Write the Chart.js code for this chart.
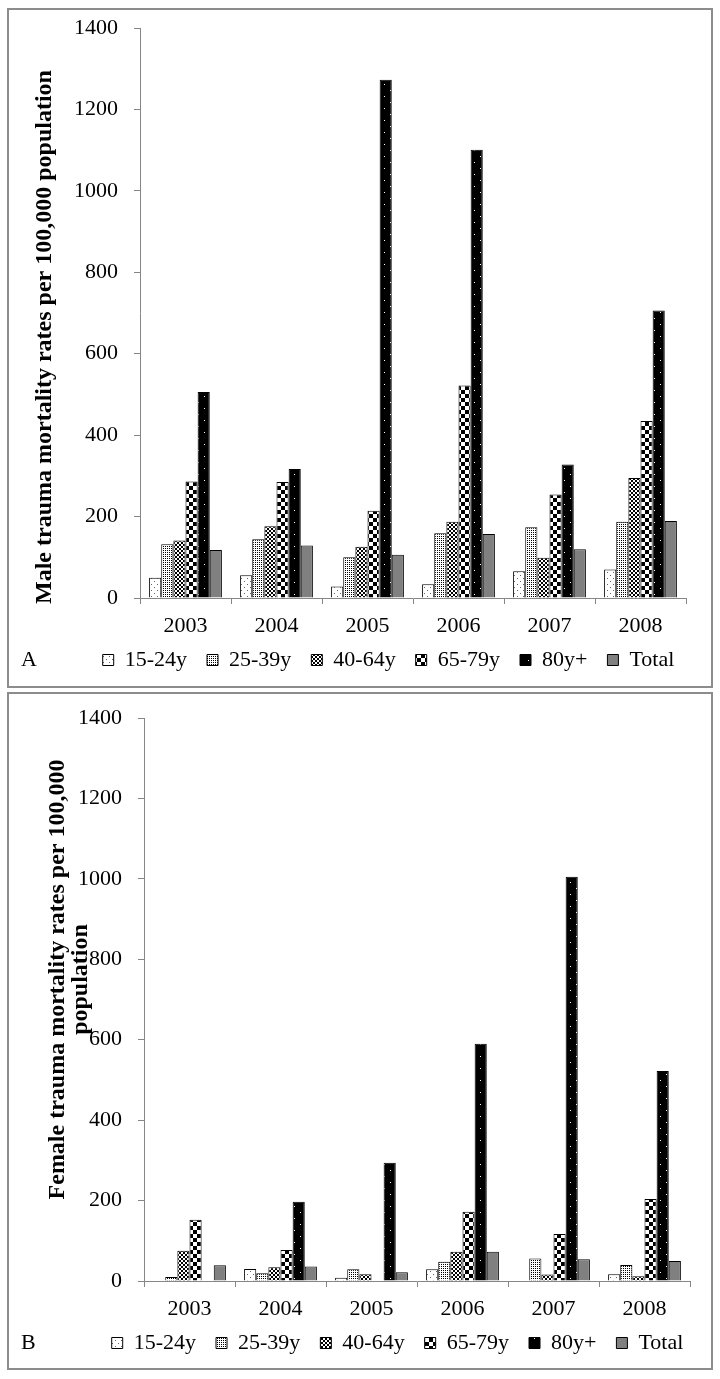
<!DOCTYPE html>
<html>
<head>
<meta charset="utf-8">
<script src="https://cdn.jsdelivr.net/npm/chart.js@4.4.1/dist/chart.umd.min.js"></script>
<style>
  body { margin: 0; background: #fff; }
  .panel { position: absolute; left: 7px; width: 702px; border: 2px solid #8c8c8c; }
  #panelA { top: 8px; height: 676px; }
  #panelB { top: 692px; height: 674px; }
  canvas { display: block; }
</style>
</head>
<body>
<div class="panel" id="panelA"><canvas id="chartA"></canvas></div>
<div class="panel" id="panelB"><canvas id="chartB"></canvas></div>
<script>
const years = ['2003', '2004', '2005', '2006', '2007', '2008'];
const ageGroups = ['15-24y', '25-39y', '40-64y', '65-79y', '80y+', 'Total'];
const yTicks = [0, 200, 400, 600, 800, 1000, 1200, 1400];

// A - male rates per 100,000
const male15_24 = [50, 56, 28, 34, 66, 70];
const male25_39 = [132, 144, 100, 159, 174, 187];
const male40_64 = [141, 176, 126, 187, 99, 295];
const male65_79 = [286, 285, 214, 522, 254, 435];
const male80plus = [506, 317, 1273, 1101, 328, 706];
const maleTotal = [118, 129, 106, 157, 120, 189];

// B - female rates per 100,000 (null = no bar)
const female15_24 = [null, 30, 8, 29, null, 17];
const female25_39 = [10, 19, 29, 48, 56, 40];
const female40_64 = [75, 34, 17, 73, 16, 12];
const female65_79 = [152, 77, null, 172, 117, 204];
const female80plus = [null, 197, 294, 590, 1005, 522];
const femaleTotal = [39, 36, 22, 73, 54, 50];

const serif = 'Liberation Serif';

// fill patterns like the old excel ones
function makePattern(size, draw) {
    const c = document.createElement('canvas');
    c.width = size;
    c.height = size;
    const g = c.getContext('2d');
    draw(g, size);
    return g.createPattern(c, 'repeat');
}

const fills = [
    makePattern(6, (g, s) => {
        g.fillStyle = '#fff'; g.fillRect(0, 0, s, s);
        g.fillStyle = '#666'; g.fillRect(1, 1, 1, 1); g.fillRect(4, 4, 1, 1);
    }),
    makePattern(2, (g, s) => {
        g.fillStyle = '#fff'; g.fillRect(0, 0, s, s);
        g.fillStyle = '#000'; g.fillRect(0, 0, 1, 1);
    }),
    makePattern(4, (g, s) => {
        g.fillStyle = '#fff'; g.fillRect(0, 0, s, s);
        g.fillStyle = '#000'; g.fillRect(0, 0, 2, 2); g.fillRect(2, 2, 2, 2);
    }),
    makePattern(8, (g, s) => {
        g.fillStyle = '#fff'; g.fillRect(0, 0, s, s);
        g.fillStyle = '#000'; g.fillRect(0, 0, 4, 4); g.fillRect(4, 4, 4, 4);
    }),
    makePattern(12, (g, s) => {
        g.fillStyle = '#000'; g.fillRect(0, 0, s, s);
        g.fillStyle = '#fff'; g.fillRect(3, 2, 1, 1); g.fillRect(9, 8, 1, 1);
    }),
    '#808080'
];

// rotated axis title, panel letter, and a nudge for the legend row
const panelText = {
    id: 'panelText',
    afterLayout(chart, args, opts) {
        const lg = chart.legend;
        lg.left += opts.legendDX;
        lg.right += opts.legendDX;
        lg.top += opts.legendDY;
        lg.bottom += opts.legendDY;
    },
    afterDraw(chart, args, opts) {
        const ctx = chart.ctx;
        const area = chart.chartArea;
        ctx.save();
        ctx.fillStyle = '#000';
        ctx.font = 'bold 24px "' + serif + '"';
        ctx.textAlign = 'center';
        ctx.textBaseline = 'middle';
        ctx.translate(opts.titleX, (area.top + area.bottom) / 2 + opts.titleShift);
        ctx.rotate(-Math.PI / 2);
        opts.title.forEach((line, i) => {
            ctx.fillText(line, 0, (i - (opts.title.length - 1) / 2) * 23);
        });
        ctx.restore();

        const box = chart.legend.legendHitBoxes[0];
        ctx.save();
        ctx.fillStyle = '#000';
        ctx.font = '22px "' + serif + '"';
        ctx.textAlign = 'left';
        ctx.textBaseline = 'middle';
        ctx.fillText(opts.letter, opts.letterX, box.top + box.height / 2);
        ctx.restore();
    }
};

function buildChart(canvasId, values, cfg) {
    const ctx = document.getElementById(canvasId).getContext('2d');
    return new Chart(ctx, {
        type: 'bar',
        data: {
            labels: years,
            datasets: ageGroups.map((name, i) => ({
                label: name,
                data: values[i],
                backgroundColor: fills[i],
                borderColor: '#000',
                borderWidth: 1,
                categoryPercentage: 0.8,
                barPercentage: 1.0
            }))
        },
        options: {
            responsive: true,
            maintainAspectRatio: false,
            animation: false,
            layout: { padding: cfg.padding },
            plugins: {
                tooltip: { enabled: false },
                legend: {
                    position: 'bottom',
                    maxHeight: cfg.legendHeight,
                    labels: {
                        boxWidth: 11,
                        boxHeight: 11,
                        padding: 20,
                        color: '#000',
                        font: { family: serif, size: 22 }
                    }
                },
                panelText: cfg.text
            },
            scales: {
                x: {
                    grid: { display: true, drawOnChartArea: false, tickLength: 6, color: '#868686', offset: true },
                    border: { color: '#868686' },
                    ticks: { color: '#000', padding: 9, font: { family: serif, size: 22 } },
                    afterFit: s => { s.height = 42; }
                },
                y: {
                    min: 0,
                    max: 1400,
                    afterBuildTicks: s => { s.ticks = yTicks.map(v => ({ value: v })); },
                    grid: { drawOnChartArea: false, tickLength: 6, color: '#868686' },
                    border: { color: '#868686' },
                    ticks: { color: '#000', padding: 16, font: { family: serif, size: 22 }, callback: v => String(v) },
                    afterFit: s => { s.width = cfg.yWidth; s.paddingTop = 0; s.paddingBottom = 0; }
                }
            }
        },
        plugins: [panelText]
    });
}

buildChart('chartA',
    [male15_24, male25_39, male40_64, male65_79, male80plus, maleTotal],
    {
        padding: { top: 18, left: 50, right: 25, bottom: 0 },
        legendHeight: 46,
        yWidth: 81,
        text: {
            title: ['Male trauma mortality rates per 100,000 population'],
            titleX: 36, titleShift: 24, letter: 'A', letterX: 12,
            legendDX: 16, legendDY: -11
        }
    });

buildChart('chartB',
    [female15_24, female25_39, female40_64, female65_79, female80plus, femaleTotal],
    {
        padding: { top: 24, left: 50, right: 21, bottom: 0 },
        legendHeight: 45,
        yWidth: 85,
        text: {
            title: ['Female trauma mortality rates per 100,000', 'population'],
            titleX: 60, titleShift: -20, letter: 'B', letterX: 12,
            legendDX: 23, legendDY: -11
        }
    });
</script>
</body>
</html>
